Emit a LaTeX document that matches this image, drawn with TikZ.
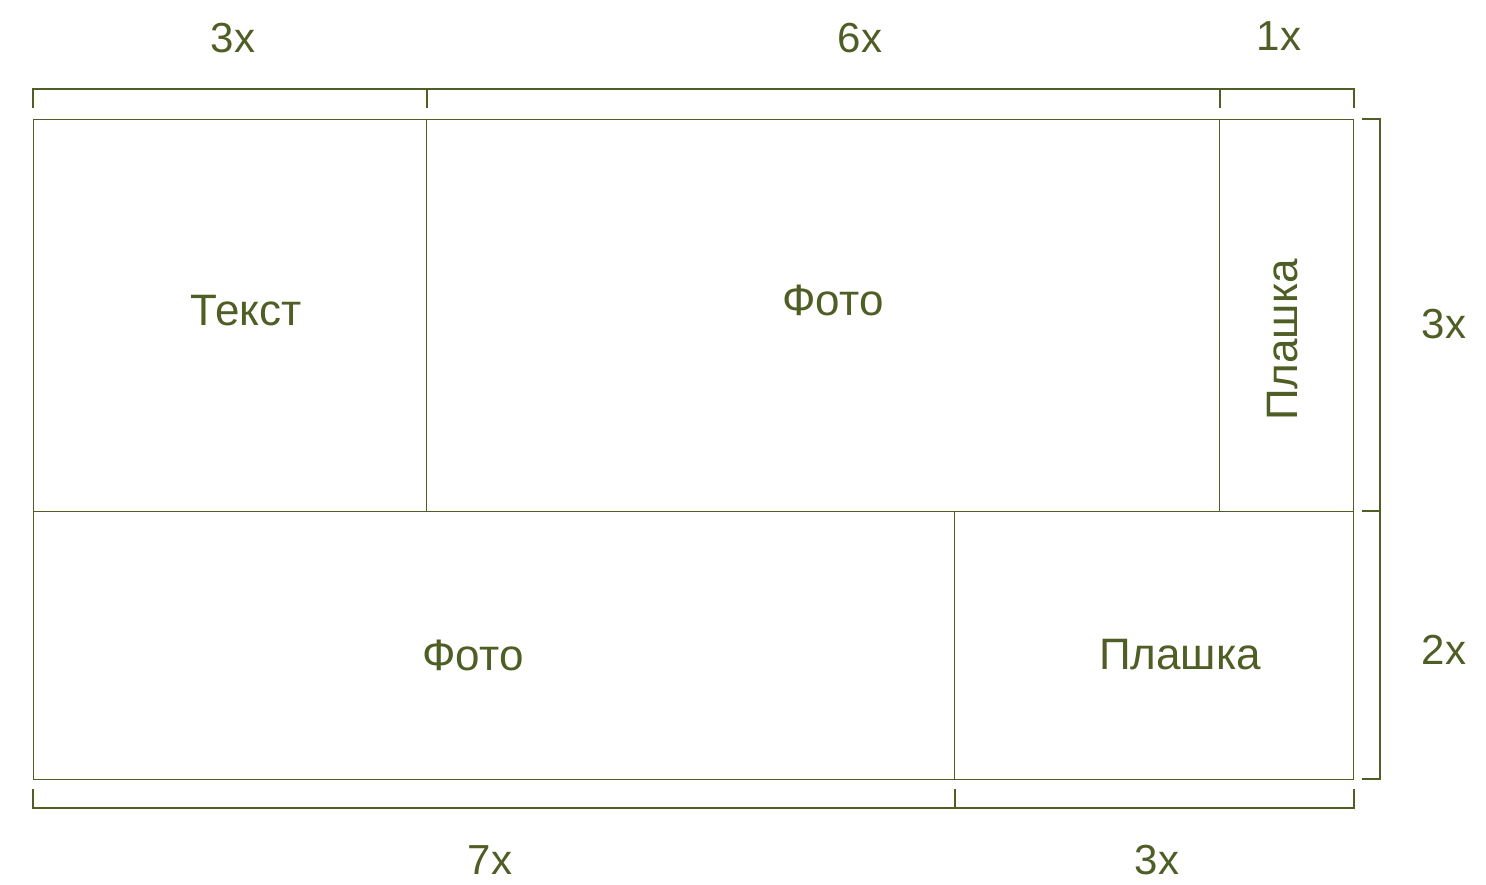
\documentclass[tikz,border=0pt]{standalone}
\usepackage{fontspec}
\setmainfont{Liberation Sans}
\definecolor{olive}{RGB}{78,94,36}
\begin{document}
\begin{tikzpicture}[x=1pt,y=-1pt,
  frame/.style={draw=olive,line width=1pt},
  brace/.style={draw=olive,line width=1.3pt},
  cell/.style={text=olive,font=\fontsize{44}{50}\selectfont},
  size/.style={text=olive,font=\fontsize{42}{48}\selectfont}]
\useasboundingbox (0,0) rectangle (1486,884);
% grid of blocks
\draw[frame] (33,119) rectangle (1353,779);
\draw[frame] (33,511) -- (1353,511);
\draw[frame] (426,119) -- (426,511);
\draw[frame] (1219,119) -- (1219,511);
\draw[frame] (954,511) -- (954,779);
\node[cell] (tekst) at (246,311) {Текст};
\node[cell] (foto1) at (833,300) {Фото};
\node[cell,rotate=90] (plashka1) at (1283,340) {Плашка};
\node[cell] (foto2) at (473,655) {Фото};
\node[cell] (plashka2) at (1180,655) {Плашка};
% top measures
\draw[brace] (33,108) -- (33,89) -- (1354,89) -- (1354,108);
\draw[brace] (427,89) -- (427,108);
\draw[brace] (1220,89) -- (1220,108);
\node[size] (w3) at (233,38) {3x};
\node[size] (w6) at (860,38) {6x};
\node[size] (w1) at (1279,36) {1x};
% right measures
\draw[brace] (1362,119) -- (1380,119) -- (1380,779) -- (1362,779);
\draw[brace] (1362,511) -- (1380,511);
\node[size] (h3) at (1444,324) {3x};
\node[size] (h2) at (1444,650) {2x};
% bottom measures
\draw[brace] (33,789) -- (33,808) -- (1354,808) -- (1354,789);
\draw[brace] (955,808) -- (955,789);
\node[size] (b7) at (490,860) {7x};
\node[size] (b3) at (1157,860) {3x};
\end{tikzpicture}
\end{document}
